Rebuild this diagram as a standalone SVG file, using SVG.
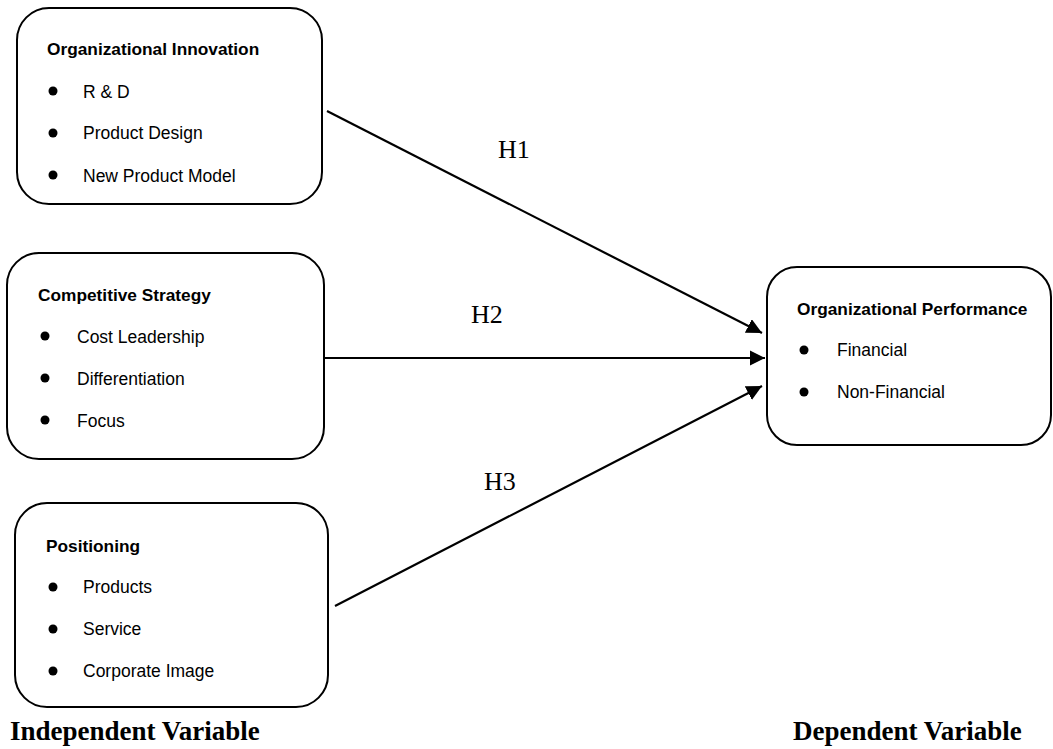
<svg xmlns="http://www.w3.org/2000/svg" width="1053" height="749" viewBox="0 0 1053 749">
<style>
.box{fill:#fff;stroke:#000;stroke-width:2}
.title{font-family:"Liberation Sans",Arial,sans-serif;font-weight:bold;font-size:17.3px;fill:#000}
.item{font-family:"Liberation Sans",Arial,sans-serif;font-size:17.5px;fill:#000}
.bul{fill:#000}
.hl{font-family:"Liberation Serif","Times New Roman",serif;font-size:26px;fill:#000}
.cap{font-family:"Liberation Serif","Times New Roman",serif;font-weight:bold;font-size:27px;fill:#000}
.conn{stroke:#000;stroke-width:2.2;fill:none;marker-end:url(#arr)}
</style>
<defs>
<marker id="arr" viewBox="0 0 10 10" refX="10" refY="5" markerWidth="7" markerHeight="7" markerUnits="strokeWidth" orient="auto">
<path d="M0,0 L10,5 L0,10 Z" fill="#000"/>
</marker>
</defs>
<rect width="1053" height="749" fill="#fff"/>
<g id="connectors">
<line class="conn" x1="327" y1="111" x2="762" y2="333"/>
<line class="conn" x1="325" y1="358" x2="765" y2="358"/>
<line class="conn" x1="335" y1="606" x2="762" y2="386"/>
<text class="hl" x="498" y="158">H1</text>
<text class="hl" x="471" y="323">H2</text>
<text class="hl" x="484" y="490">H3</text>
</g>
<g id="node-innovation">
<rect class="box" x="17" y="8" width="305" height="196" rx="32"/>
<text class="title" x="47" y="55">Organizational Innovation</text>
<circle class="bul" cx="53" cy="91" r="4.5"/><text class="item" x="83" y="98">R &amp; D</text>
<circle class="bul" cx="53" cy="133" r="4.5"/><text class="item" x="83" y="139">Product Design</text>
<circle class="bul" cx="53" cy="175" r="4.5"/><text class="item" x="83" y="182">New Product Model</text>
</g>
<g id="node-strategy">
<rect class="box" x="7" y="253" width="317" height="206" rx="32"/>
<text class="title" x="38" y="301">Competitive Strategy</text>
<circle class="bul" cx="45" cy="336" r="4.5"/><text class="item" x="77" y="343">Cost Leadership</text>
<circle class="bul" cx="45" cy="378" r="4.5"/><text class="item" x="77" y="385">Differentiation</text>
<circle class="bul" cx="45" cy="420" r="4.5"/><text class="item" x="77" y="427">Focus</text>
</g>
<g id="node-positioning">
<rect class="box" x="15" y="503" width="313" height="204" rx="32"/>
<text class="title" x="46" y="552">Positioning</text>
<circle class="bul" cx="53" cy="587" r="4.5"/><text class="item" x="83" y="593">Products</text>
<circle class="bul" cx="53" cy="629" r="4.5"/><text class="item" x="83" y="635">Service</text>
<circle class="bul" cx="53" cy="671" r="4.5"/><text class="item" x="83" y="677">Corporate Image</text>
</g>
<g id="node-performance">
<rect class="box" x="767" y="267" width="284" height="178" rx="30"/>
<text class="title" x="797" y="315">Organizational Performance</text>
<circle class="bul" cx="804" cy="350" r="4.5"/><text class="item" x="837" y="356">Financial</text>
<circle class="bul" cx="804" cy="392" r="4.5"/><text class="item" x="837" y="398">Non-Financial</text>
</g>
<g id="labels">
<text class="cap" x="10" y="740">Independent Variable</text>
<text class="cap" x="793" y="740">Dependent Variable</text>
</g>
</svg>
